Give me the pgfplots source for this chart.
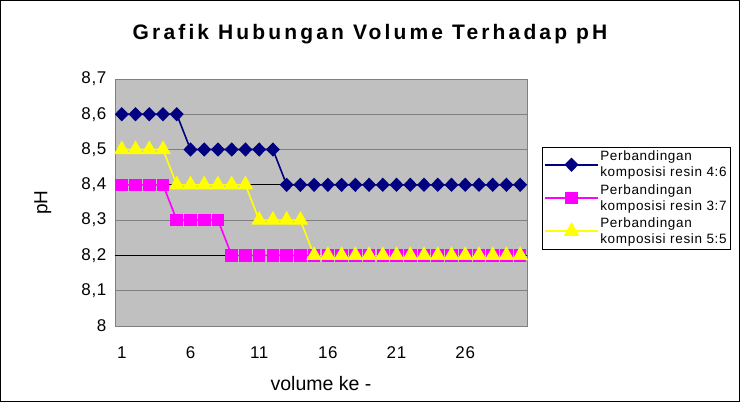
\documentclass[border=0pt]{standalone}
\usepackage{pgfplots}
\pgfplotsset{compat=1.18}
\usepackage{fontspec}
\setmainfont{Liberation Sans}
\definecolor{plotbg}{HTML}{C0C0C0}
\definecolor{gridc}{HTML}{808080}
\definecolor{navyc}{HTML}{000080}
\definecolor{magc}{HTML}{FF00FF}
\definecolor{yelc}{HTML}{FFFF00}
\begin{document}
\begin{tikzpicture}[x=1pt,y=1pt]
\draw[black, line width=0.8pt, fill=white] (0.5,0.5) rectangle (739.5,401.5);
\node[font=\fontsize{21}{24}\selectfont\bfseries\addfontfeatures{LetterSpace=15}] at (370,368) {Grafik Hubungan Volume Terhadap pH};
\begin{axis}[
  at={(115pt,76pt)}, anchor=south west, scale only axis,
  width=412pt, height=247pt,
  xmin=0.5, xmax=30.5, ymin=8, ymax=8.7,
  xtick={1,6,11,16,21,26},
  ytick={8,8.1,8.2,8.3,8.4,8.5,8.6,8.7},
  major tick length=0pt,
  axis background/.style={fill=plotbg},
  axis line style={gridc},
  ymajorgrids, grid style={gridc, line width=0.8pt},
  extra y ticks={8.2,8.4}, extra y tick labels={},
  extra tick style={grid style={black, line width=0.8pt}},
  /pgf/number format/assume math mode=true,
  /pgf/number format/.cd, use comma, fixed, precision=1, /pgfplots/.cd,
  ticklabel style={font=\fontsize{17}{19}\selectfont\addfontfeatures{LetterSpace=4}},
  yticklabel style={xshift=-5pt},
  xticklabel style={yshift=-17pt},
  xlabel={volume ke -}, ylabel={pH},
  xlabel style={font=\fontsize{19.5}{22}\selectfont, at={(axis description cs:0.5,-0.231)}, anchor=center},
  ylabel style={font=\fontsize{19}{22}\selectfont, at={(axis description cs:-0.175,0.5)}, anchor=center},
  legend style={at={(1.0375,0.725)}, anchor=north west, draw=black, fill=white,
    font=\fontsize{13.5}{16}\selectfont\addfontfeatures{LetterSpace=5},
    cells={align=left, anchor=west}, row sep=2pt, inner sep=2pt},
  legend image code/.code={\draw[mark repeat=2,mark phase=2,#1] plot coordinates {(0pt,0pt)(26pt,0pt)(52pt,0pt)};},
  clip=false,
]
\addplot[navyc, line width=1.6pt, mark=diamond*, mark size=6pt, mark options={xscale=1.3, solid}] coordinates {
(1,8.6)(2,8.6)(3,8.6)(4,8.6)(5,8.6)
(6,8.5)(7,8.5)(8,8.5)(9,8.5)(10,8.5)(11,8.5)(12,8.5)
(13,8.4)(14,8.4)(15,8.4)(16,8.4)(17,8.4)(18,8.4)(19,8.4)(20,8.4)(21,8.4)(22,8.4)(23,8.4)(24,8.4)(25,8.4)(26,8.4)(27,8.4)(28,8.4)(29,8.4)(30,8.4)};
\addlegendentry{Perbandingan\\komposisi resin 4:6}
\addplot[magc, line width=1.6pt, mark=square*, mark size=5.5pt] coordinates {
(1,8.4)(2,8.4)(3,8.4)(4,8.4)
(5,8.3)(6,8.3)(7,8.3)(8,8.3)
(9,8.2)(10,8.2)(11,8.2)(12,8.2)(13,8.2)(14,8.2)(15,8.2)(16,8.2)(17,8.2)(18,8.2)(19,8.2)(20,8.2)(21,8.2)(22,8.2)(23,8.2)(24,8.2)(25,8.2)(26,8.2)(27,8.2)(28,8.2)(29,8.2)(30,8.2)};
\addlegendentry{Perbandingan\\komposisi resin 3:7}
\addplot[yelc, line width=1.6pt, mark=triangle*, mark size=7.5pt] coordinates {
(1,8.5)(2,8.5)(3,8.5)(4,8.5)
(5,8.4)(6,8.4)(7,8.4)(8,8.4)(9,8.4)(10,8.4)
(11,8.3)(12,8.3)(13,8.3)(14,8.3)
(15,8.2)(16,8.2)(17,8.2)(18,8.2)(19,8.2)(20,8.2)(21,8.2)(22,8.2)(23,8.2)(24,8.2)(25,8.2)(26,8.2)(27,8.2)(28,8.2)(29,8.2)(30,8.2)};
\addlegendentry{Perbandingan\\komposisi resin 5:5}
\end{axis}
\end{tikzpicture}
\end{document}
